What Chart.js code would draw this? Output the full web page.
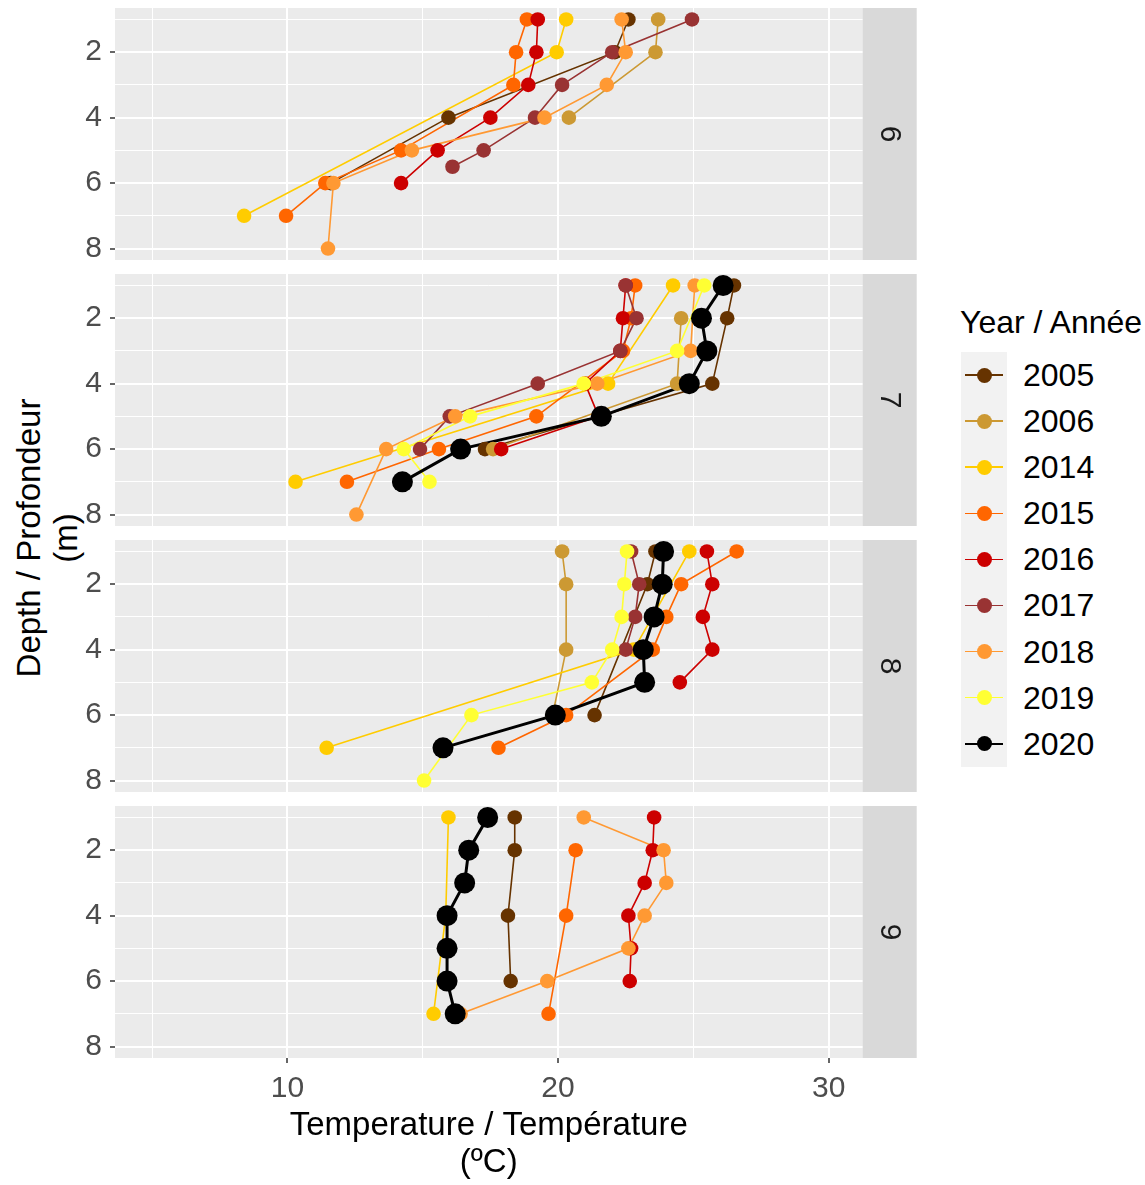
<!DOCTYPE html>
<html>
<head>
<meta charset="utf-8">
<title>Temperature profiles</title>
<script src="https://cdn.jsdelivr.net/npm/chart.js@4.4.1/dist/chart.umd.min.js"></script>
<style>
  body { margin: 0; background: #fff; font-family: 'Liberation Sans', Arial, sans-serif; }
  #wrap { position: relative; width: 1145px; height: 1185px; overflow: hidden; }
  #wrap canvas { position: absolute; left: 0; }
  #ytitle {
    position: absolute; left: 47px; top: 538px; width: 500px;
    font-size: 33px; line-height: 37px; text-align: center; color: #000;
    transform: translate(-50%, -50%) rotate(-90deg);
  }
  #legend { position: absolute; left: 960px; top: 306px; color: #000; }
  #legend .ttl { font-size: 32px; line-height: 32px; white-space: nowrap; }
  #legend .keys { position: absolute; left: 1px; top: 46px; width: 46px; background: #f2f2f2; }
  #legend .row { position: relative; height: 46.1px; }
  #legend .ln { position: absolute; left: 4px; width: 38px; top: 22.3px; height: 1.5px; }
  #legend .dot { position: absolute; left: 15.5px; top: 15.5px; width: 15px; height: 15px; border-radius: 50%; }
  #legend .lab { position: absolute; left: 62px; top: 0; height: 46.1px; line-height: 46.1px; font-size: 32px; white-space: nowrap; }
</style>
</head>
<body>
<div id="wrap">
  <div id="ytitle">Depth / Profondeur<br>(m)</div>
  <div id="legend"><div class="ttl">Year / Année</div><div class="keys" id="keys"></div></div>
</div>
<script>
// facets (month) and years
const months = ['6', '7', '8', '9'];
const years = ['2005', '2006', '2014', '2015', '2016', '2017', '2018', '2019', '2020'];
const yearColors = ['#663300', '#cc9933', '#ffcc00', '#ff6600', '#cc0000', '#993333', '#ff9933', '#ffff33', '#000000'];

// axis ticks
const depthGrid = [1, 2, 3, 4, 5, 6, 7, 8];
const depthLabels = [2, 4, 6, 8];
const tempGrid = [5, 10, 15, 20, 25, 30];
const tempLabels = [10, 20, 30];

// profiles: [year, depth (m), temperature (°C)]
const june = [
  [2005, 1, 22.6], [2005, 2, 22.1], [2005, 4, 15.95], [2005, 6, 11.6],
  [2006, 1, 23.7], [2006, 2, 23.6], [2006, 4, 20.4],
  [2014, 1, 20.3], [2014, 2, 19.95], [2014, 7, 8.4],
  [2015, 1, 18.85], [2015, 2, 18.45], [2015, 3, 18.35], [2015, 5, 14.2], [2015, 6, 11.4], [2015, 7, 9.95],
  [2016, 1, 19.25], [2016, 2, 19.2], [2016, 3, 18.9], [2016, 4, 17.5], [2016, 5, 15.55], [2016, 6, 14.2],
  [2017, 1, 24.95], [2017, 2, 22.0], [2017, 3, 20.15], [2017, 4, 19.15], [2017, 5, 17.25], [2017, 5.5, 16.1],
  [2018, 1, 22.35], [2018, 2, 22.5], [2018, 3, 21.8], [2018, 4, 19.5], [2018, 5, 14.6], [2018, 6, 11.7], [2018, 8, 11.5],
];
const july = [
  [2005, 1, 26.5], [2005, 2, 26.25], [2005, 4, 25.7], [2005, 6, 17.3],
  [2006, 2, 24.55], [2006, 4, 24.4], [2006, 6, 17.6],
  [2014, 1, 24.25], [2014, 4, 21.85], [2014, 7, 10.3],
  [2015, 1, 22.85], [2015, 2, 22.7], [2015, 3, 22.4], [2015, 5, 19.2], [2015, 6, 15.6], [2015, 7, 12.2],
  [2016, 1, 22.5], [2016, 2, 22.4], [2016, 3, 22.3], [2016, 4, 21.0], [2016, 5, 21.5], [2016, 6, 17.9],
  [2017, 1, 22.5], [2017, 2, 22.9], [2017, 3, 22.3], [2017, 4, 19.25], [2017, 5, 16.0], [2017, 6, 14.9],
  [2018, 1, 25.05], [2018, 3, 24.9], [2018, 4, 21.45], [2018, 5, 16.2], [2018, 6, 13.65], [2018, 8, 12.55],
  [2019, 1, 25.4], [2019, 3, 24.4], [2019, 4, 20.95], [2019, 5, 16.75], [2019, 6, 14.3], [2019, 7, 15.25],
  [2020, 1, 26.1], [2020, 2, 25.3], [2020, 3, 25.5], [2020, 4, 24.85], [2020, 5, 21.6], [2020, 6, 16.4], [2020, 7, 14.25],
];
const august = [
  [2005, 1, 23.6], [2005, 2, 23.3], [2005, 6, 21.35],
  [2006, 1, 20.15], [2006, 2, 20.3], [2006, 4, 20.3], [2006, 6, 19.8],
  [2014, 1, 24.85], [2014, 4, 22.8], [2014, 7, 11.45],
  [2015, 1, 26.6], [2015, 2, 24.55], [2015, 3, 24.0], [2015, 4, 23.5], [2015, 6, 20.3], [2015, 7, 17.8],
  [2016, 1, 25.5], [2016, 2, 25.7], [2016, 3, 25.35], [2016, 4, 25.7], [2016, 5, 24.5],
  [2017, 1, 22.7], [2017, 2, 23.0], [2017, 3, 22.85], [2017, 4, 22.5],
  [2019, 1, 22.55], [2019, 2, 22.45], [2019, 3, 22.35], [2019, 4, 22.0], [2019, 5, 21.25], [2019, 6, 16.8], [2019, 8, 15.05],
  [2020, 1, 23.9], [2020, 2, 23.85], [2020, 3, 23.55], [2020, 4, 23.15], [2020, 5, 23.2], [2020, 6, 19.9], [2020, 7, 15.75],
];
const september = [
  [2005, 1, 18.4], [2005, 2, 18.4], [2005, 4, 18.15], [2005, 6, 18.25],
  [2014, 1, 15.95], [2014, 4, 15.85], [2014, 7, 15.4],
  [2015, 2, 20.65], [2015, 4, 20.3], [2015, 7, 19.65],
  [2016, 1, 23.55], [2016, 2, 23.5], [2016, 3, 23.2], [2016, 4, 22.6], [2016, 5, 22.7], [2016, 6, 22.65],
  [2018, 1, 20.95], [2018, 2, 23.9], [2018, 3, 24.0], [2018, 4, 23.2], [2018, 5, 22.6], [2018, 6, 19.6], [2018, 7, 16.4],
  [2020, 1, 17.4], [2020, 2, 16.7], [2020, 3, 16.55], [2020, 4, 15.9], [2020, 5, 15.9], [2020, 6, 15.9], [2020, 7, 16.2],
];
const panels = [june, july, august, september];

Chart.defaults.font.family = "'Liberation Sans', Arial, sans-serif";

const PANEL_TOP = [8, 274, 540, 806];
const PANEL_H = 252;
const PLOT_LEFT = 115;
const PLOT_RIGHT = 862.5;
const STRIP_W = 54.2;
const CANVAS_W = 920;
const PAD = 20;

// grey panel behind the grid, strip with the month on the right
const panelDecor = {
  id: 'panelDecor',
  beforeDraw(chart, args, opts) {
    const { ctx, chartArea: a } = chart;
    ctx.save();
    ctx.fillStyle = '#ebebeb';
    ctx.fillRect(a.left, a.top, a.right - a.left, a.bottom - a.top);
    ctx.fillStyle = '#d9d9d9';
    ctx.fillRect(a.right, a.top, STRIP_W, a.bottom - a.top);
    ctx.translate(a.right + STRIP_W / 2, (a.top + a.bottom) / 2);
    ctx.rotate(Math.PI / 2);
    ctx.fillStyle = '#1a1a1a';
    ctx.font = "30px 'Liberation Sans', Arial, sans-serif";
    ctx.textAlign = 'center';
    ctx.textBaseline = 'middle';
    ctx.fillText(opts.label, 0, 0);
    ctx.restore();
  }
};

function buildDatasets(rows) {
  const sets = [];
  years.forEach((yr, k) => {
    const pts = rows.filter(r => String(r[0]) === yr)
      .sort((p, q) => p[1] - q[1])
      .map(r => ({ x: r[2], y: r[1] }));
    if (!pts.length) return;
    const big = yr === '2020';
    sets.push({
      label: yr, data: pts, showLine: true,
      borderColor: yearColors[k], borderWidth: big ? 3 : 1.6,
      pointRadius: 0, pointHoverRadius: 0, order: 100 + 8 - k
    });
    sets.push({
      label: yr, data: pts, showLine: false,
      backgroundColor: yearColors[k], borderWidth: 0,
      pointRadius: big ? 10.5 : 7.3, pointHoverRadius: big ? 10.5 : 7.3, order: 8 - k
    });
  });
  return sets;
}

const wrap = document.getElementById('wrap');

panels.forEach((rows, i) => {
  const last = i === panels.length - 1;
  const top = PANEL_TOP[i] - PAD;
  const h = last ? 1185 - top : PANEL_H + 2 * PAD;
  const cv = document.createElement('canvas');
  cv.width = CANVAS_W;
  cv.height = h;
  cv.style.top = top + 'px';
  cv.style.width = CANVAS_W + 'px';
  cv.style.height = h + 'px';
  wrap.appendChild(cv);

  new Chart(cv, {
    type: 'scatter',
    data: { datasets: buildDatasets(rows) },
    plugins: [panelDecor],
    options: {
      responsive: false,
      animation: false,
      devicePixelRatio: 1,
      events: [],
      layout: { padding: { left: 0, right: CANVAS_W - PLOT_RIGHT, top: PAD, bottom: last ? 0 : PAD } },
      plugins: { legend: { display: false }, tooltip: { enabled: false }, panelDecor: { label: months[i] } },
      scales: {
        x: {
          type: 'linear', min: 3.63, max: 31.25,
          afterBuildTicks: s => { s.ticks = tempGrid.map(v => ({ value: v })); },
          afterFit: s => {
            s.height = last ? h - PAD - PANEL_H : 0;
            s.paddingLeft = 0; s.paddingRight = 0;
          },
          border: { display: false },
          grid: {
            color: '#ffffff',
            lineWidth: c => (c.tick && tempLabels.includes(c.tick.value) ? 2 : 1),
            drawTicks: last, tickLength: 5, tickWidth: 1.5,
            tickColor: c => (c.tick && tempLabels.includes(c.tick.value) ? '#333333' : 'rgba(0,0,0,0)')
          },
          ticks: {
            display: last, color: '#4d4d4d', font: { size: 30 }, padding: 8, maxRotation: 0, autoSkip: false,
            callback: v => (tempLabels.includes(v) ? String(v) : '')
          },
          title: {
            display: last, text: ['Temperature / Température', '(ºC)'], color: '#000',
            font: { size: 33, lineHeight: 1.13 }, padding: { top: 0, bottom: 3 }
          }
        },
        y: {
          type: 'linear', reverse: true, min: 0.65, max: 8.35,
          afterBuildTicks: s => { s.ticks = depthGrid.map(v => ({ value: v })); },
          afterFit: s => {
            s.width = PLOT_LEFT;
            s.paddingTop = 0; s.paddingBottom = 0;
          },
          border: { display: false },
          grid: {
            color: '#ffffff',
            lineWidth: c => (c.tick && depthLabels.includes(c.tick.value) ? 2 : 1),
            tickLength: 5, tickWidth: 1.5,
            tickColor: c => (c.tick && depthLabels.includes(c.tick.value) ? '#333333' : 'rgba(0,0,0,0)')
          },
          ticks: {
            color: '#4d4d4d', font: { size: 30 }, padding: 8, autoSkip: false,
            callback: v => (depthLabels.includes(v) ? String(v) : '')
          }
        }
      }
    }
  });
});

// legend: one key per year
const keys = document.getElementById('keys');
years.forEach((yr, k) => {
  const row = document.createElement('div');
  row.className = 'row';
  row.innerHTML = '<div class="ln"></div><div class="dot"></div><div class="lab"></div>';
  row.querySelector('.ln').style.background = yearColors[k];
  row.querySelector('.dot').style.background = yearColors[k];
  row.querySelector('.lab').textContent = yr;
  keys.appendChild(row);
});
</script>
</body>
</html>
